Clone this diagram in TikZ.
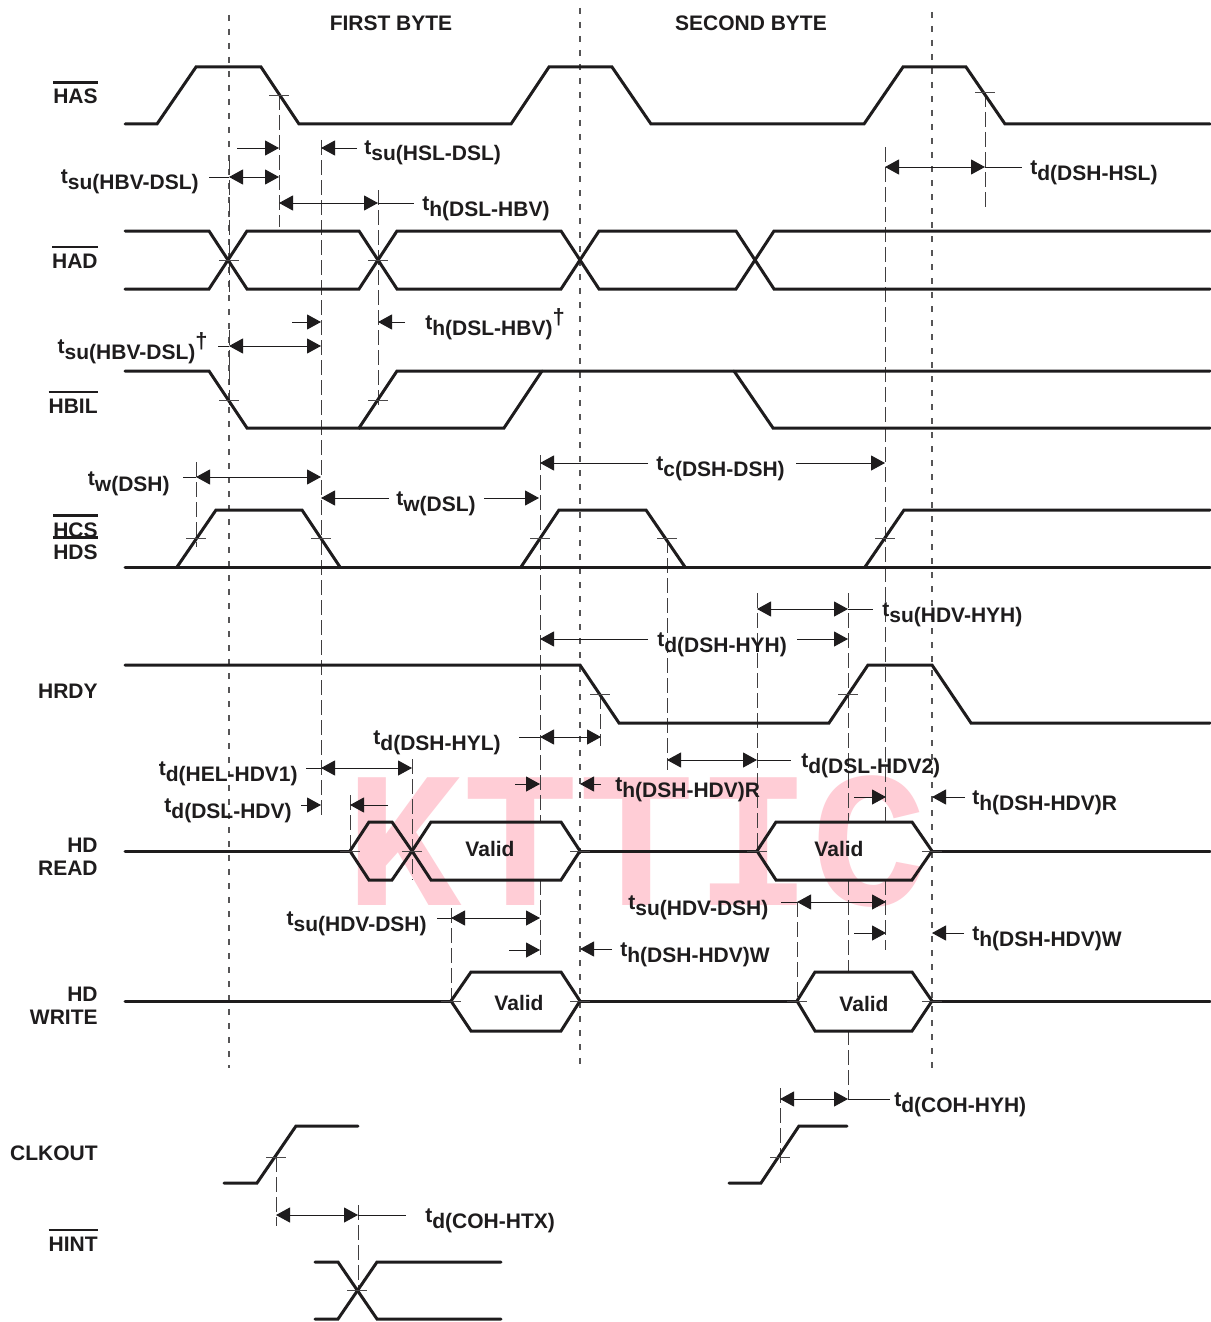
\documentclass[tikz,border=0pt]{standalone}
\usepackage{fontspec}
\setmainfont{Liberation Sans}
\newfontfamily\wmfont{Liberation Mono}
\usetikzlibrary{arrows.meta}
\definecolor{wmpink}{RGB}{255,205,214}
\definecolor{ink}{RGB}{30,28,29}
\newcommand{\tsub}[1]{t\raisebox{-3pt}{#1}}
\newcommand{\ovl}[1]{\vbox{\hrule height 1.4pt\kern 2.6pt\hbox{#1}}}
\newcommand{\dg}{\raisebox{2.5pt}{\fontsize{11}{11}\selectfont †}}
\begin{document}
\begin{tikzpicture}[x=0.5pt,y=-0.5pt,
  font=\bfseries\fontsize{10.5}{12}\selectfont,
  every node/.style={text=ink},
  wave/.style={draw=ink,line width=1.5pt,line cap=round,line join=miter},
  thinl/.style={draw=ink,line width=0.5pt},
  vdash/.style={draw=ink!85,line width=0.5pt,dash pattern=on 7.5pt off 2.5pt},
  vdot/.style={draw=ink!75,line width=0.6pt,dash pattern=on 3pt off 4pt},
  tickline/.style={draw=ink!80,line width=0.45pt},
  arr/.style={thinl,-{Triangle[length=7pt,width=7.5pt]}},
  darr/.style={thinl,{Triangle[length=7pt,width=7.5pt]}-{Triangle[length=7pt,width=7.5pt]}},
  lbl/.style={inner sep=0pt},
  sig/.style={inner sep=0pt,anchor=base east}]

\useasboundingbox (0,0) rectangle (1210,1322);
\fill[white] (0,0) rectangle (1210,1322);

% watermark
\node[inner sep=0pt,anchor=base,text=wmpink,font=\wmfont\bfseries\fontsize{97}{97}\selectfont] (wm) at (637,905) {KTTIC};

% byte boundaries (short dashes)
\draw[vdot] (229,15) -- (229,1068);
\draw[vdot] (580,8) -- (580,1068);
\draw[vdot] (932,12) -- (932,1068);

% long dashed timing references
\draw[vdash] (279,95) -- (279,227);
\draw[vdash] (321,140) -- (321,817);
\draw[vdash] (229,160) -- (229,292);
\draw[vdash] (229,330) -- (229,410);
\draw[vdash] (378,190) -- (378,410);
\draw[vdash] (196,462) -- (196,547);
\draw[vdash] (540,455) -- (540,822);
\draw[vdash] (540,880) -- (540,958);
\draw[vdash] (667,538) -- (667,770);
\draw[vdash] (600,694) -- (600,746);
\draw[vdash] (757,593) -- (757,851);
\draw[vdash] (848,593) -- (848,822);
\draw[vdash] (848,880) -- (848,972);
\draw[vdash] (848,1030) -- (848,1100);
\draw[vdash] (885,147) -- (885,822);
\draw[vdash] (885,880) -- (885,950);
\draw[vdash] (985,92) -- (985,207);
\draw[vdash] (412,759) -- (412,880);
\draw[vdash] (350,795) -- (350,851);
\draw[vdash] (451,908) -- (451,1001);
\draw[vdash] (797,902) -- (797,1001);
\draw[vdash] (780,1088) -- (780,1166);
\draw[vdash] (276,1157) -- (276,1226);
\draw[vdash] (358,1205) -- (358,1290);

% ===== waveforms =====
% HAS
\draw[wave] (125,124) -- (157,124) -- (196,67) -- (261,67) -- (299,124) -- (511,124) -- (549,67) -- (612,67) -- (651,124) -- (864,124) -- (903,67) -- (966,67) -- (1005,124) -- (1210,124);
% HAD
\draw[wave] (125,231) -- (209,231) -- (247,289) -- (359,289) -- (397,231) -- (561,231) -- (599,289) -- (736,289) -- (774,231) -- (1210,231);
\draw[wave] (125,289) -- (209,289) -- (247,231) -- (359,231) -- (397,289) -- (561,289) -- (599,231) -- (736,231) -- (774,289) -- (1210,289);
% HBIL
\draw[wave] (125,371) -- (209,371) -- (247,428) -- (359,428) -- (397,371) -- (1210,371);
\draw[wave] (359,428) -- (504,428) -- (542,371);
\draw[wave] (734,371) -- (773,428) -- (1210,428);
% HCS / HDS
\draw[wave] (125,567) -- (1210,567);
\draw[wave] (177,567) -- (216,510) -- (302,510) -- (340,567);
\draw[wave] (521,567) -- (559,510) -- (646,510) -- (685,567);
\draw[wave] (865,567) -- (904,510) -- (1210,510);
% HRDY
\draw[wave] (125,665) -- (580,665) -- (619,723) -- (829,723) -- (868,665) -- (932,665) -- (971,723) -- (1210,723);
% HD READ
\draw[wave] (125,851) -- (350,851);
\draw[wave] (350,851) -- (369,822) -- (392,822) -- (412,851) -- (431,880) -- (561,880) -- (580,851);
\draw[wave] (350,851) -- (369,880) -- (392,880) -- (412,851) -- (431,822) -- (561,822) -- (580,851);
\draw[wave] (580,851) -- (757,851);
\draw[wave] (757,851) -- (776,822) -- (912,822) -- (932,851) -- (912,880) -- (776,880) -- cycle;
\draw[wave] (932,851) -- (1210,851);
% HD WRITE
\draw[wave] (125,1001) -- (451,1001);
\draw[wave] (451,1001) -- (471,972) -- (561,972) -- (580,1001) -- (561,1031) -- (471,1031) -- cycle;
\draw[wave] (580,1001) -- (797,1001);
\draw[wave] (797,1001) -- (815,972) -- (912,972) -- (932,1001) -- (912,1031) -- (815,1031) -- cycle;
\draw[wave] (932,1001) -- (1210,1001);
% CLKOUT
\draw[wave] (224,1183) -- (257,1183) -- (296,1126) -- (358,1126);
\draw[wave] (729,1183) -- (761,1183) -- (799,1126) -- (847,1126);
% HINT
\draw[wave] (315,1262) -- (338,1262) -- (377,1319) -- (501,1319);
\draw[wave] (315,1319) -- (338,1319) -- (377,1262) -- (501,1262);

% crossing markers
\foreach \x/\y in {279/95,985/92,229/260,378/260,229/400,378/400,196/538,321/538,540/538,667/538,885/538,600/694,848/694,350/851,412/851,580/851,757/851,932/851,451/1001,580/1001,797/1001,932/1001,276/1157,780/1157,357/1290}
  \draw[tickline] ({\x-10},\y) -- ({\x+10},\y);

% ===== timing arrows =====
\draw[arr] (237,148) -- (279,148);
\draw[arr] (357,148) -- (321,148);
\draw[thinl] (209,177) -- (229,177);
\draw[darr] (229,177) -- (279,177);
\draw[darr] (279,203) -- (378,203);
\draw[thinl] (378,203) -- (414,203);
\draw[darr] (885,167) -- (985,167);
\draw[thinl] (985,167) -- (1022,167);
\draw[arr] (292,322) -- (321,322);
\draw[arr] (405,322) -- (378,322);
\draw[thinl] (218,346) -- (229,346);
\draw[darr] (229,346) -- (321,346);
\draw[thinl] (183,477) -- (196,477);
\draw[darr] (196,477) -- (321,477);
\draw[arr] (389,498) -- (321,498);
\draw[arr] (484,498) -- (539,498);
\draw[arr] (648,463) -- (540,463);
\draw[arr] (796,463) -- (885,463);
\draw[darr] (757,609) -- (848,609);
\draw[thinl] (848,609) -- (873,609);
\draw[arr] (648,639) -- (540,639);
\draw[arr] (797,639) -- (848,639);
\draw[thinl] (519,737) -- (540,737);
\draw[darr] (540,737) -- (601,737);
\draw[thinl] (306,768) -- (321,768);
\draw[darr] (321,768) -- (412,768);
\draw[arr] (301,805) -- (321,805);
\draw[arr] (388,805) -- (350,805);
\draw[arr] (515,784) -- (540,784);
\draw[arr] (601,784) -- (580,784);
\draw[darr] (667,760) -- (757,760);
\draw[thinl] (757,760) -- (791,760);
\draw[arr] (854,797) -- (886,797);
\draw[arr] (965,797) -- (932,797);
\draw[thinl] (437,918) -- (451,918);
\draw[darr] (451,918) -- (540,918);
\draw[arr] (509,950) -- (540,950);
\draw[arr] (612,949) -- (580,949);
\draw[thinl] (781,902) -- (797,902);
\draw[darr] (797,902) -- (886,902);
\draw[arr] (854,933) -- (886,933);
\draw[arr] (964,933) -- (932,933);
\draw[darr] (780,1099) -- (848,1099);
\draw[thinl] (848,1099) -- (890,1099);
\draw[darr] (276,1215) -- (358,1215);
\draw[thinl] (358,1215) -- (406,1215);

% ===== timing labels =====
\node[lbl,anchor=base west] (l1) at (364,155) {\tsub{su(HSL-DSL)}};
\node[lbl,anchor=base east] (l2) at (199,184) {\tsub{su(HBV-DSL)}};
\node[lbl,anchor=base west] (l3) at (422,210) {\tsub{h(DSL-HBV)}};
\node[lbl,anchor=base west] (l4) at (1030,174) {\tsub{d(DSH-HSL)}};
\node[lbl,anchor=base west] (l5) at (425,329) {\tsub{h(DSL-HBV)}\dg};
\node[lbl,anchor=base east] (l6) at (208,353) {\tsub{su(HBV-DSL)}\dg};
\node[lbl,anchor=base east] (l7) at (170,485) {\tsub{w(DSH)}};
\node[lbl,anchor=base west] (l8) at (396,505) {\tsub{w(DSL)}};
\node[lbl,anchor=base west] (l9) at (656,470) {\tsub{c(DSH-DSH)}};
\node[lbl,anchor=base west] (l10) at (882,616) {\tsub{su(HDV-HYH)}};
\node[lbl,anchor=base west] (l11) at (657,646) {\tsub{d(DSH-HYH)}};
\node[lbl,anchor=base east] (l12) at (501,744) {\tsub{d(DSH-HYL)}};
\node[lbl,anchor=base east] (l13) at (298,775) {\tsub{d(HEL-HDV1)}};
\node[lbl,anchor=base east] (l14) at (292,812) {\tsub{d(DSL-HDV)}};
\node[lbl,anchor=base west] (l15) at (615,791) {\tsub{h(DSH-HDV)R}};
\node[lbl,anchor=base west] (l16) at (801,767) {\tsub{d(DSL-HDV2)}};
\node[lbl,anchor=base west] (l17) at (972,804) {\tsub{h(DSH-HDV)R}};
\node[lbl,anchor=base east] (l18) at (427,925) {\tsub{su(HDV-DSH)}};
\node[lbl,anchor=base west] (l19) at (628,909) {\tsub{su(HDV-DSH)}};
\node[lbl,anchor=base west] (l20) at (620,956) {\tsub{h(DSH-HDV)W}};
\node[lbl,anchor=base west] (l21) at (972,940) {\tsub{h(DSH-HDV)W}};
\node[lbl,anchor=base west] (l22) at (894,1106) {\tsub{d(COH-HYH)}};
\node[lbl,anchor=base west] (l23) at (425,1222) {\tsub{d(COH-HTX)}};

% headers and Valid
\node[lbl,anchor=base] (h1) at (391,31) {FIRST BYTE};
\node[lbl,anchor=base] (h2) at (751,31) {SECOND BYTE};
\node[lbl,anchor=base] (v1) at (490,856) {Valid};
\node[lbl,anchor=base] (v2) at (839,856) {Valid};
\node[lbl,anchor=base] (v3) at (519,1010) {Valid};
\node[lbl,anchor=base] (v4) at (864,1011) {Valid};

% signal names
\node[sig] (sHAS) at (98,104) {\ovl{HAS}};
\node[sig] (sHAD) at (98,268) {\ovl{HAD}};
\node[sig] (sHBIL) at (98,413) {\ovl{HBIL}};
\node[sig] (sHCS) at (98,537) {\ovl{HCS}};
\node[sig] (sHDS) at (98,559) {\ovl{HDS}};
\node[sig] (sHRDY) at (98,698) {HRDY};
\node[sig] (sHD1) at (98,852) {HD};
\node[sig] (sREAD) at (98,875) {READ};
\node[sig] (sHD2) at (98,1001) {HD};
\node[sig] (sWRITE) at (98,1024) {WRITE};
\node[sig] (sCLK) at (98,1160) {CLKOUT};
\node[sig] (sHINT) at (98,1251) {\ovl{HINT}};
\end{tikzpicture}
\end{document}
